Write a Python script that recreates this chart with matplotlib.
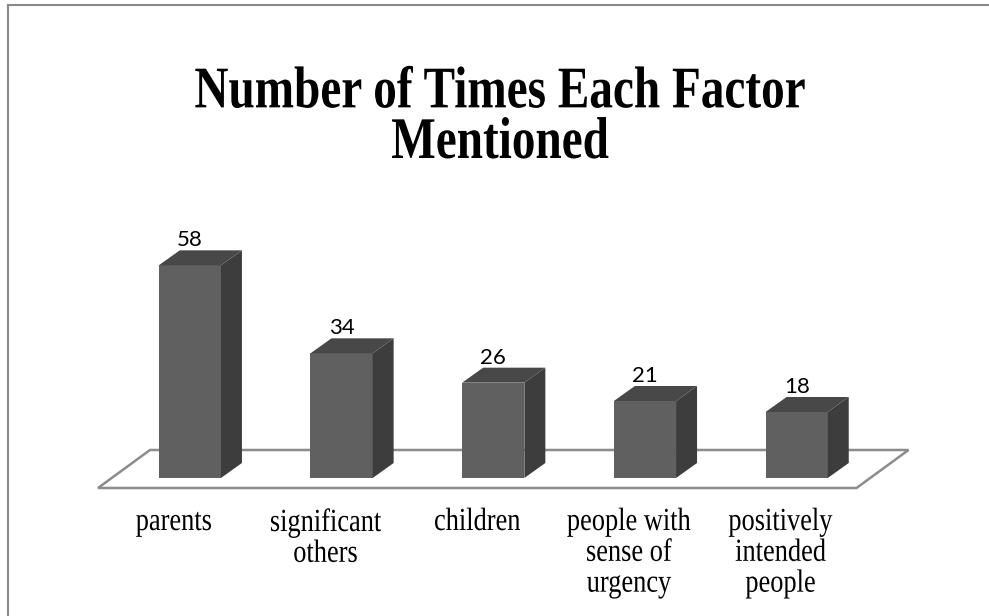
"""Bar chart: how often each factor was mentioned, drawn as raised 3-D blocks."""

import matplotlib
matplotlib.use("Agg")
import matplotlib.pyplot as plt
from matplotlib.patches import Polygon, Rectangle
from matplotlib.patheffects import AbstractPathEffect
from matplotlib.transforms import Affine2D

factors = [
    "parents",
    "significant\nothers",
    "children",
    "people with\nsense of\nurgency",
    "positively\nintended\npeople",
]
counts = [58, 34, 26, 21, 18]

W, H = 989, 616
FRONT = "#606060"
SIDE = "#3d3d3d"
TOP = "#484848"
EDGE = "#8c8c8c"


class Tall(AbstractPathEffect):
    """Draw glyphs taller than wide, stretched about each line's baseline."""

    def __init__(self, factor):
        super().__init__()
        self.factor = factor

    def draw_path(self, renderer, gc, tpath, affine, rgbFace=None):
        y0 = affine.transform((0, 0))[1]
        stretch = Affine2D().translate(0, -y0).scale(1, self.factor).translate(0, y0)
        renderer.draw_path(gc, tpath, affine + stretch, rgbFace)


fig = plt.figure(figsize=(W / 100, H / 100), dpi=100)
ax = fig.add_axes([114 / W, 138 / H, 758.5 / W, 220 / H])
ax.set_xlim(-0.5, len(counts) - 0.5)
ax.set_ylim(0, 60)
ax.axis("off")

# pixel -> data scale, used for the oblique depth of the blocks and floor
sx = ax.bbox.width / (len(counts))
sy = ax.bbox.height / 60.0
dx, dy = 21 / sx, 15 / sy          # block depth
fx, fy = -16 / sx, -10 / sy        # floor front edge
bx, by = 36 / sx, 28 / sy          # floor back edge
hw = 0.205

floor = Polygon(
    [(-0.5 + fx, fy), (len(counts) - 0.5 + fx, fy),
     (len(counts) - 0.5 + bx, by), (-0.5 + bx, by)],
    closed=True, fc="white", ec=EDGE, lw=1.8, zorder=1, clip_on=False)
ax.add_patch(floor)

for i, v in enumerate(counts):
    ax.add_patch(Rectangle((i - hw, 0), 2 * hw, v, fc=FRONT, ec="none",
                           zorder=3, clip_on=False))
    ax.add_patch(Polygon([(i + hw, 0), (i + hw + dx, dy),
                          (i + hw + dx, v + dy), (i + hw, v)],
                         fc=SIDE, ec="none", zorder=3, clip_on=False))
    ax.add_patch(Polygon([(i - hw, v), (i + hw, v),
                          (i + hw + dx, v + dy), (i - hw + dx, v + dy)],
                         fc=TOP, ec="none", zorder=3, clip_on=False))
    ax.text(i, v + dy, str(v), ha="center", va="bottom",
            fontsize=16, family="Lato", color="black", clip_on=False)
    ax.text(i + fx, -35 / sy, factors[i], ha="center", va="top",
            fontsize=19, family="Liberation Serif", linespacing=1.52,
            path_effects=[Tall(1.22)], clip_on=False)

fig.text(500 / W, 1 - 158 / H, "Number of Times Each Factor\nMentioned",
         ha="center", va="baseline", fontsize=34, fontweight="bold",
         family="Liberation Serif", linespacing=1.27,
         path_effects=[Tall(1.25)])

# chart frame (only top and left edges fall inside the image)
fig.add_artist(Rectangle((8 / W, -0.2), 1.5, 0.2 + 1 - 5 / H,
                         transform=fig.transFigure, fc="none",
                         ec="#8a8a8a", lw=1.5))

fig.savefig("out.png", dpi=100)
